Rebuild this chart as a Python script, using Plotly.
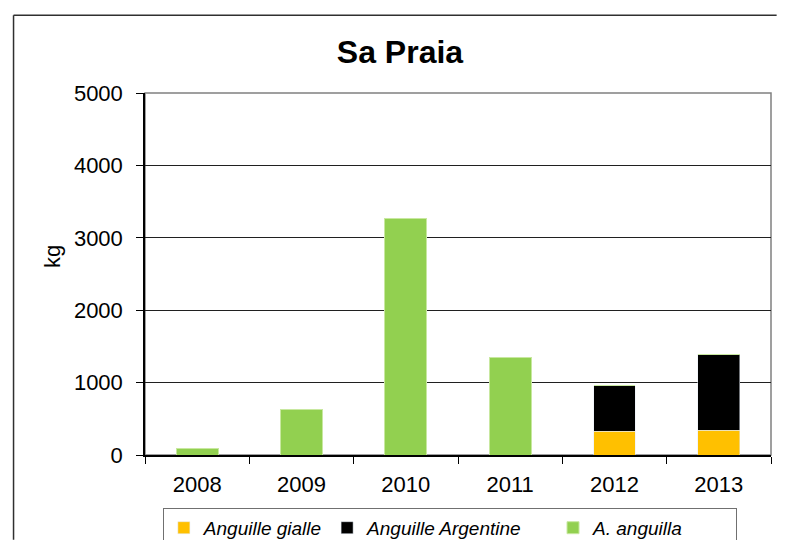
import plotly.graph_objects as go

# dati (kg)
years = ["2008", "2009", "2010", "2011", "2012", "2013"]
gialle = [0, 0, 0, 0, 330, 340]
argentine = [0, 0, 0, 0, 630, 1050]
a_anguilla = [90, 625, 3260, 1350, 0, 0]
y_ticks = [0, 1000, 2000, 3000, 4000, 5000]

pad = "\u00a0"  # spazi per allargare le voci della legenda

fig = go.Figure()

fig.add_trace(go.Bar(x=years, y=gialle, name="Anguille gialle", marker_color="#FFC000"))
fig.add_trace(go.Bar(x=years, y=argentine, name="Anguille Argentine" + pad * 5,
                     marker_color="#000000"))
fig.add_trace(go.Bar(x=years, y=a_anguilla, name="A. anguilla" + pad * 9,
                     marker=dict(color="#92D050", line=dict(color="#C8E8A0", width=1))))

# cornice grigia dell'area del grafico
fig.add_shape(type="rect", xref="paper", yref="paper", x0=0, y0=0, x1=1, y1=1,
              line=dict(color="#808080", width=1.5), layer="below")
# bordo esterno del grafico (solo lati sinistro e superiore visibili)
fig.add_shape(type="line", xref="paper", yref="paper", x0=-0.21, y0=1.215, x1=1.009, y1=1.215,
              line=dict(color="#303030", width=1.5))
fig.add_shape(type="line", xref="paper", yref="paper", x0=-0.21, y0=1.215, x1=-0.21, y1=-0.234,
              line=dict(color="#303030", width=1.5))

# titolo asse y
fig.add_annotation(text="kg", xref="paper", yref="paper", x=-0.147, y=0.55,
                   xanchor="center", yanchor="middle",
                   textangle=-90, showarrow=False, font=dict(size=22))

fig.update_layout(
    barmode="stack",
    bargap=0.6,
    width=769, height=532,
    margin=dict(l=137, r=6, t=85, b=85, autoexpand=False),
    paper_bgcolor="white",
    plot_bgcolor="white",
    font=dict(family="Liberation Sans, Arial, sans-serif", size=22, color="black"),
    title=dict(text="<b>Sa Praia</b>", x=0.5097, xanchor="center", y=0.917, yanchor="middle",
               font=dict(size=32, color="black")),
    showlegend=True,
    legend=dict(orientation="h", x=0.487, xanchor="center", y=-0.146, yanchor="top",
                font=dict(size=19, style="italic"), bgcolor="white",
                bordercolor="#707070", borderwidth=1, traceorder="normal"),
    yaxis=dict(range=[0, 5000], tickvals=y_ticks, showgrid=True, gridcolor="#202020",
               gridwidth=1, showline=True, linecolor="black", linewidth=1.5,
               ticks="outside", ticklen=7, tickcolor="black", automargin=False,
               ticklabelstandoff=9, zeroline=False),
    xaxis=dict(showline=True, linecolor="black", linewidth=1.5, ticks="outside",
               tickson="boundaries", ticklen=7, tickcolor="black", showgrid=False,
               automargin=False, ticklabelstandoff=9),
)

fig.write_html("out.html")
